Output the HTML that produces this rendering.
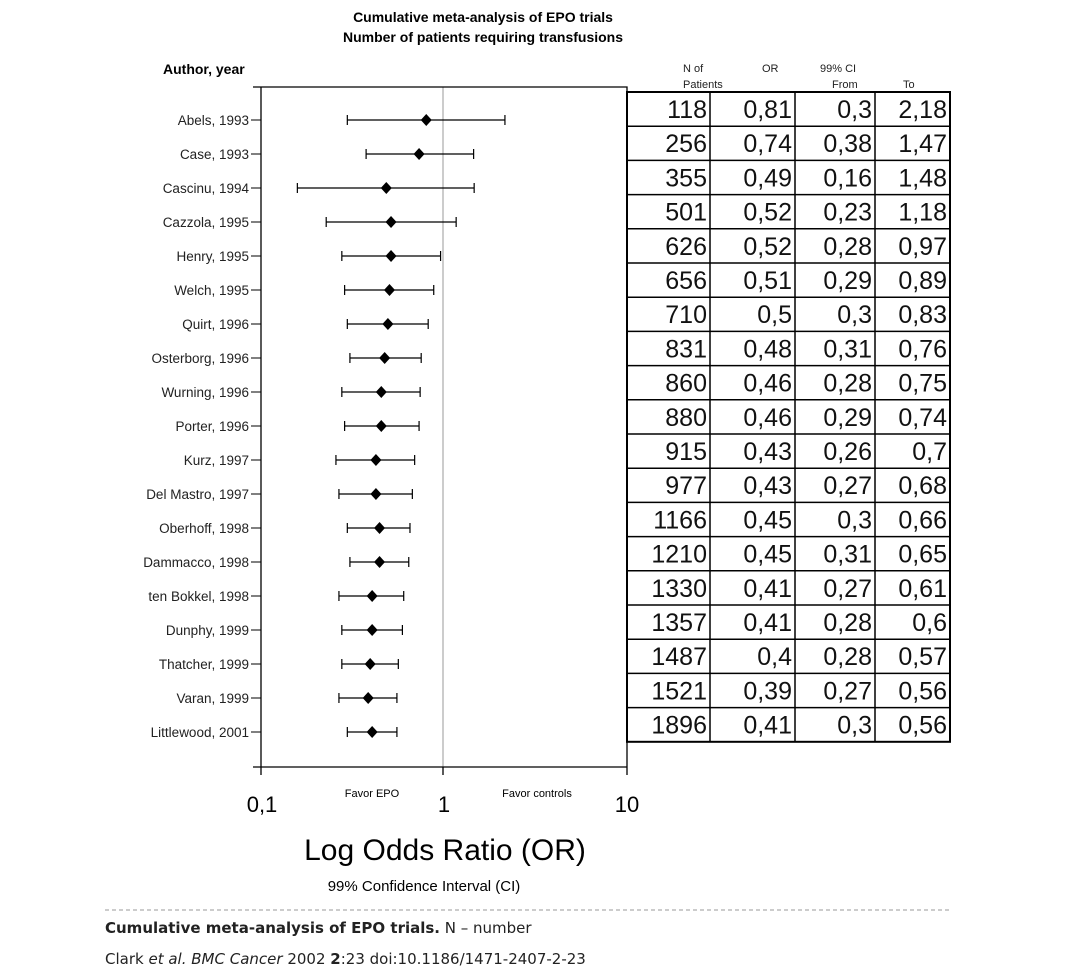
<!DOCTYPE html>
<html><head><meta charset="utf-8"><style>
html,body{margin:0;padding:0;background:#fff;}
svg, svg text{font-family:"Liberation Sans",Arial,Helvetica,sans-serif;}
svg{display:block;}
svg text.dv{font-family:"DejaVu Sans",sans-serif;}
</style></head><body>
<svg id="chart" width="1084" height="974" viewBox="0 0 1084 974" xmlns="http://www.w3.org/2000/svg" font-family="Liberation Sans, Arial, sans-serif">
<text x="483" y="22" font-size="14" font-weight="bold" text-anchor="middle">Cumulative meta-analysis of EPO trials</text>
<text x="483" y="42" font-size="14" font-weight="bold" text-anchor="middle">Number of patients requiring transfusions</text>
<text x="163" y="74" font-size="14" font-weight="bold">Author, year</text>
<g font-size="11" fill="#222">
<text x="683" y="72">N of</text><text x="683" y="88">Patients</text>
<text x="762" y="72">OR</text>
<text x="820" y="72">99% CI</text><text x="832" y="88">From</text><text x="903" y="88">To</text>
</g>
<g id="plot"></g>
<g id="table"></g>
<text x="262" y="812" font-size="22" text-anchor="middle">0,1</text>
<text x="444" y="812" font-size="22" text-anchor="middle">1</text>
<text x="627" y="812" font-size="22" text-anchor="middle">10</text>
<text x="372" y="797" font-size="11" text-anchor="middle">Favor EPO</text>
<text x="537" y="797" font-size="11" text-anchor="middle">Favor controls</text>
<text x="445" y="860" font-size="30" text-anchor="middle">Log Odds Ratio (OR)</text>
<text x="424" y="891" font-size="15" text-anchor="middle">99% Confidence Interval (CI)</text>
<line x1="105" y1="910" x2="952" y2="910" stroke="#999" stroke-dasharray="4,3"/>
<text class="dv" x="105" y="933" font-size="15" fill="#222"><tspan font-weight="bold">Cumulative meta-analysis of EPO trials.</tspan> N – number</text>
<text class="dv" x="105" y="964" font-size="15" fill="#222">Clark <tspan font-style="italic">et al.</tspan> <tspan font-style="italic">BMC Cancer</tspan> 2002 <tspan font-weight="bold">2</tspan>:23   doi:10.1186/1471-2407-2-23</text>
</svg>
<script>
const studies=["Abels, 1993","Case, 1993","Cascinu, 1994","Cazzola, 1995","Henry, 1995","Welch, 1995","Quirt, 1996","Osterborg, 1996","Wurning, 1996","Porter, 1996","Kurz, 1997","Del Mastro, 1997","Oberhoff, 1998","Dammacco, 1998","ten Bokkel, 1998","Dunphy, 1999","Thatcher, 1999","Varan, 1999","Littlewood, 2001"];
const nPatients=[118,256,355,501,626,656,710,831,860,880,915,977,1166,1210,1330,1357,1487,1521,1896];
const orValues=[0.81,0.74,0.49,0.52,0.52,0.51,0.5,0.48,0.46,0.46,0.43,0.43,0.45,0.45,0.41,0.41,0.4,0.39,0.41];
const ciFrom=[0.3,0.38,0.16,0.23,0.28,0.29,0.3,0.31,0.28,0.29,0.26,0.27,0.3,0.31,0.27,0.28,0.28,0.27,0.3];
const ciTo=[2.18,1.47,1.48,1.18,0.97,0.89,0.83,0.76,0.75,0.74,0.7,0.68,0.66,0.65,0.61,0.6,0.57,0.56,0.56];
const NS="http://www.w3.org/2000/svg";
const xS=v=>443+Math.log10(v)*183;
const yS=i=>120+i*34;
const fmt=v=>String(v).replace('.',',');
function mk(p,tag,a){const e=document.createElementNS(NS,tag);for(const k in a)e.setAttribute(k,a[k]);p.appendChild(e);return e;}
const plot=document.getElementById('plot');
let e;
e=mk(plot,'line',{x1:443,y1:87,x2:443,y2:767,stroke:'#bbb','stroke-width':1.5});


e=mk(plot,'path',{d:'M253,87H627V767M261,87V775M253,767H627M443,767V775M627,767V775',fill:'none',stroke:'#000','stroke-width':1.3});


studies.forEach((s,i)=>{
 const y=yS(i);
 const g=mk(plot,'g',{});
 
 
 const t=mk(g,'text',{x:249,y:y+5,'font-size':13.5,'text-anchor':'end',fill:'#222'});t.textContent=s;
 mk(g,'line',{x1:251,y1:y,x2:261,y2:y,stroke:'#000'});
 const x1=xS(ciFrom[i]),x2=xS(ciTo[i]),xc=xS(orValues[i]);
 const ci=mk(g,'path',{d:`M${x1},${y}H${x2}M${x1},${y-5}V${y+5}M${x2},${y-5}V${y+5}`,stroke:'#000',fill:'none','stroke-width':1.2});
 
 
 const d=mk(g,'path',{d:`M${xc},${y-6}L${xc+5.5},${y}L${xc},${y+6}L${xc-5.5},${y}Z`,fill:'#000'});
 
 
});
const tb=document.getElementById('table');


const top0=92,rh=34.2,cols=[627,710,795,875,950];
const bottom=top0+rh*studies.length;
mk(tb,'rect',{x:627,y:top0,width:323,height:bottom-top0,fill:'none',stroke:'#000','stroke-width':2});
cols.slice(1,4).forEach(c=>mk(tb,'line',{x1:c,y1:top0,x2:c,y2:bottom,stroke:'#000','stroke-width':1.5}));
studies.forEach((s,i)=>{
 const y=top0+rh*i;
 if(i>0)mk(tb,'line',{x1:627,y1:y,x2:950,y2:y,stroke:'#000','stroke-width':1.5});
 const vals=[nPatients[i],fmt(orValues[i]),fmt(ciFrom[i]),fmt(ciTo[i])];
 vals.forEach((v,j)=>{const t=mk(tb,'text',{x:cols[j+1]-3,y:y+26,'font-size':25,'text-anchor':'end',fill:'#111'});t.textContent=v;
  
  });
});
</script>
</body></html>
